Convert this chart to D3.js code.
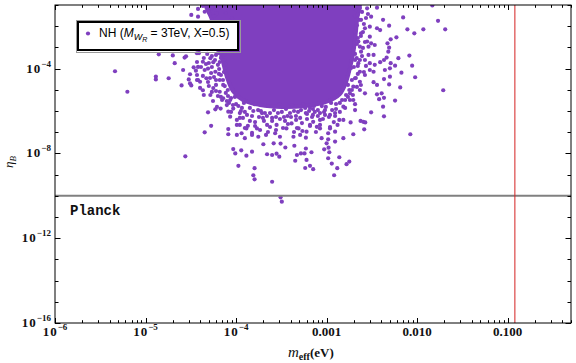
<!DOCTYPE html>
<html>
<head>
<meta charset="utf-8">
<script src="https://cdn.jsdelivr.net/npm/d3@7"></script>
<style>
  body { margin: 0; background: #fff; }
  svg { display: block; }
</style>
</head>
<body>
<div id="chart"></div>
<script>
  // dense core of the scan, outline [m_eff (eV), eta_B]
  const coreOutline = [
    [4.65e-5, 0.2], [2.21e-3, 0.2], [2.16e-3, 1.96e-2], [2.06e-3, 2.23e-3], [1.95e-3, 4.4e-4],
    [1.81e-3, 1.07e-4], [1.64e-3, 2.33e-5], [1.4e-3, 6.3e-6], [9.84e-4, 2.66e-6], [5.77e-4, 1.72e-6],
    [3.21e-4, 1.55e-6], [1.84e-4, 1.92e-6], [1.19e-4, 3.3e-6], [9.24e-5, 8.8e-6], [7.93e-5, 4.0e-5],
    [7.0e-5, 3.16e-4], [6.15e-5, 2.23e-3], [5.42e-5, 1.96e-2]
  ];

  // points hugging the core
  const fringePoints = [
    [4.8e-5, 4.9e-4], [5.4e-5, 3.9e-4], [6.3e-5, 5.4e-4], [7.35e-5, 4.4e-4], [5.0e-5, 1.84e-4],
    [5.85e-5, 2.55e-4], [6.8e-5, 3.2e-4], [7.7e-5, 1.65e-4], [4.5e-5, 8.6e-5], [5.3e-5, 6.2e-5],
    [6.5e-5, 9.6e-5], [7.35e-5, 6.9e-5], [4.9e-5, 2.33e-5], [5.7e-5, 4.0e-5], [6.6e-5, 2.9e-5],
    [7.5e-5, 1.5e-5], [5.4e-5, 7.9e-6], [6.3e-5, 5.1e-6], [7.7e-5, 7.1e-6], [8.8e-5, 4.1e-6],
    [6.0e-5, 1.7e-5], [7.0e-5, 3.3e-6], [8.35e-5, 2.4e-6], [9.7e-5, 4.6e-6],
    [1.06e-4, 1.72e-6], [1.22e-4, 2.4e-6], [1.42e-4, 1.4e-6], [1.66e-4, 2.1e-6], [1.88e-4, 1.0e-6],
    [2.25e-4, 1.72e-6], [2.62e-4, 1.1e-6], [2.98e-4, 2.1e-6], [3.56e-4, 1.24e-6], [4.14e-4, 1.9e-6],
    [4.83e-4, 9.0e-7], [5.5e-4, 2.1e-6], [6.4e-4, 1.0e-6], [7.24e-4, 1.72e-6], [8.45e-4, 8.0e-7],
    [9.8e-4, 1.55e-6], [1.12e-3, 2.4e-6], [1.27e-3, 1.24e-6], [1.19e-4, 4.7e-7], [1.62e-4, 3.0e-7],
    [2.19e-4, 5.8e-7], [3.05e-4, 4.2e-7], [4.04e-4, 5.2e-7], [5.34e-4, 2.7e-7], [7.06e-4, 6.5e-7],
    [9.1e-4, 4.2e-7], [1.2e-3, 3.0e-7], [1.35e-4, 2.0e-7], [1.84e-4, 1.27e-7], [3.3e-4, 1.58e-7],
    [6.07e-4, 4.2e-7], [2.37e-4, 1.76e-7], [8.8e-5, 9.0e-7], [1.02e-4, 2.2e-7],
    [2.16e-3, 9.0e-2], [2.46e-3, 4.7e-2], [2.28e-3, 2.0e-2], [2.58e-3, 1.27e-2], [2.1e-3, 8.2e-3],
    [2.39e-3, 3.45e-3], [2.16e-3, 1.45e-3], [2.52e-3, 9.4e-4], [2.06e-3, 4.9e-4], [2.33e-3, 2.55e-4],
    [2.0e-3, 1.19e-4], [2.21e-3, 5.6e-5], [1.9e-3, 2.9e-5], [2.16e-3, 1.36e-5], [1.78e-3, 9.8e-6],
    [1.95e-3, 5.7e-6], [1.6e-3, 3.3e-6], [1.4e-3, 2.4e-6], [2.72e-3, 1.33e-4], [2.86e-3, 3.76e-2],
    [4.3e-5, 9.0e-2], [5.0e-5, 4.7e-2], [5.7e-5, 3.0e-2], [6.6e-5, 7.2e-2], [7.7e-5, 4.2e-2],
    [9.0e-5, 2.44e-2], [1.0e-4, 9.0e-2], [3.8e-5, 6.5e-2]
  ];

  // second, looser ring around the core
  const haloPoints = [
    [3.9e-5, 5.4e-4], [4.4e-5, 3.16e-4], [3.7e-5, 2.05e-4], [4.1e-5, 1.19e-4], [4.65e-5, 1.65e-4],
    [5.4e-5, 1.19e-4], [6.0e-5, 4.4e-4], [6.6e-5, 2.05e-4], [4.3e-5, 4.5e-5], [3.8e-5, 2.9e-5],
    [5.0e-5, 1.51e-5], [4.4e-5, 5.7e-6], [6.0e-5, 8.8e-6], [6.8e-5, 4.6e-6], [7.9e-5, 2.96e-6],
    [5.56e-5, 2.96e-6], [9.24e-5, 1.92e-6], [6.47e-5, 5.6e-5], [7.17e-5, 2.9e-5], [6.15e-5, 1.55e-6],
    [8.14e-5, 5.1e-6], [4.0e-5, 1.22e-5], [5.15e-5, 3.6e-5], [7.54e-5, 1.07e-4],
    [2.33e-3, 7.2e-2], [2.06e-3, 3.0e-2], [2.52e-3, 5.3e-3], [2.21e-3, 2.77e-3], [2.65e-3, 1.8e-3],
    [2.46e-3, 3.9e-4], [2.21e-3, 1.33e-4], [2.58e-3, 6.9e-5], [2.1e-3, 3.6e-5], [2.39e-3, 1.68e-5],
    [1.9e-3, 9.8e-6], [1.72e-3, 4.6e-6], [1.48e-3, 3.3e-6], [1.27e-3, 2.14e-6], [2.72e-3, 2.44e-2],
    [1.81e-3, 3.3e-6], [2.06e-3, 2.55e-4],
    [1.13e-4, 1.0e-6], [1.32e-4, 6.5e-7], [1.55e-4, 1.0e-6], [1.79e-4, 5.2e-7], [2.08e-4, 8.05e-7],
    [2.5e-4, 4.7e-7], [2.9e-4, 8.05e-7], [3.38e-4, 5.2e-7], [3.94e-4, 8.05e-7], [4.58e-4, 5.8e-7],
    [5.21e-4, 1.11e-6], [6.07e-4, 7.2e-7], [7.06e-4, 1.24e-6], [8.0e-4, 5.8e-7], [9.35e-4, 8.97e-7],
    [1.06e-3, 5.2e-7], [1.24e-3, 8.05e-7], [1.25e-4, 1.58e-7], [1.62e-4, 1.96e-7], [2.03e-4, 3.4e-7],
    [2.76e-4, 1.27e-7], [3.74e-4, 2.44e-7], [4.7e-4, 1.58e-7], [6.55e-4, 1.96e-7], [8.45e-4, 2.2e-7],
    [1.09e-3, 1.76e-7], [1.1e-4, 4.7e-7], [1.5e-4, 9.2e-8], [2.25e-4, 1.02e-7], [4.36e-4, 1.02e-7],
    [7.62e-4, 1.02e-7]
  ];

  const leftPoints = [
    [4.6e-6, 7.5e-5], [6.3e-6, 8.1e-6], [1.4e-5, 4.7e-4], [2.0e-5, 4.2e-4], [2.8e-5, 3.8e-4],
    [2.1e-5, 1.8e-4], [1.3e-5, 4.2e-5], [1.3e-5, 3.1e-5], [1.8e-5, 3.5e-5], [2.6e-5, 8.6e-5],
    [3.1e-5, 5.4e-5], [3.0e-5, 3.1e-5], [2.5e-5, 1.6e-5], [3.2e-5, 1.6e-5], [3.4e-5, 1.15e-4],
    [3.6e-5, 8.0e-5], [3.7e-5, 5.3e-4], [2.75e-5, 7.3e-9], [3.7e-5, 2.9e-5], [3.2e-5, 3.4e-2],
    [3.8e-5, 2.8e-2], [4.5e-5, 4.8e-2], [5.4e-5, 7.0e-2], [6.1e-5, 4.1e-2], [2.7e-5, 3.3e-4],
    [3.8e-5, 1.2e-4], [4.3e-5, 2.1e-4], [5.2e-5, 3.1e-4], [3.7e-5, 5.0e-5], [3.1e-5, 2.0e-5],
    [4.0e-5, 2.4e-5], [4.7e-5, 3.5e-5], [5.9e-5, 7.1e-5], [6.3e-5, 1.5e-4], [5.6e-5, 1.2e-5],
    [5.2e-5, 5.7e-6], [6.6e-5, 8.1e-6], [7.2e-5, 4.0e-6], [7.2e-5, 1.7e-5], [7.9e-5, 1.9e-6],
    [7.35e-5, 2.55e-4], [6.8e-5, 5.0e-5], [8.1e-5, 9.8e-6], [6.0e-5, 2.9e-5], [4.9e-5, 1.0e-4],
    [5.6e-5, 2.0e-4], [4.3e-5, 9.5e-6], [8.6e-5, 3.3e-6], [1.0e-4, 2.1e-6], [1.16e-4, 1.4e-6]
  ];

  const lowerPoints = [
    [4.5e-5, 9.9e-8], [5.3e-5, 2.0e-7], [4.9e-5, 8.7e-7], [5.9e-5, 1.2e-6], [6.75e-5, 1.3e-6],
    [8.2e-5, 1.4e-7], [8.2e-5, 8.0e-8], [9.3e-5, 1.6e-8], [9.8e-5, 1.0e-8], [1.14e-4, 1.4e-8],
    [1.3e-4, 7.8e-9], [1.5e-4, 1.2e-8], [1.06e-4, 2.6e-9], [1.6e-4, 2.0e-9], [1.55e-4, 9.3e-10],
    [1.6e-4, 6.0e-10], [2.5e-4, 4.6e-10], [2.0e-4, 2.7e-8], [2.2e-4, 9.1e-9], [2.5e-4, 8.4e-9],
    [2.8e-4, 9.7e-9], [3.0e-4, 7.0e-9], [2.6e-4, 3.0e-8], [3.1e-4, 2.9e-8], [3.5e-4, 1.9e-8],
    [4.4e-4, 2.3e-8], [4.5e-4, 4.5e-9], [4.7e-4, 8.4e-9], [5.2e-4, 1.0e-8], [5.7e-4, 1.0e-8],
    [5.9e-4, 1.7e-8], [5.8e-4, 2.05e-9], [6.0e-4, 4.9e-9], [3.1e-4, 8.5e-11], [3.2e-4, 5.3e-11],
    [1.02e-4, 7.4e-8], [1.15e-4, 8.9e-8], [1.25e-4, 5.2e-8], [1.5e-4, 7.4e-8], [1.76e-4, 6.1e-8],
    [2.14e-4, 7.4e-8], [2.7e-4, 8.9e-8], [3.05e-4, 6.1e-8], [3.6e-4, 1.5e-7], [4.3e-4, 6.1e-8],
    [5.1e-4, 7.4e-8], [6.0e-4, 1.06e-7], [4.9e-4, 1.5e-7], [4.1e-4, 2.6e-7], [2.8e-4, 2.2e-7],
    [2.2e-4, 2.2e-7], [1.7e-4, 1.5e-7], [1.3e-4, 1.5e-7], [1.1e-4, 2.2e-7], [1.02e-4, 3.8e-7],
    [8.6e-5, 5.4e-7], [8.2e-5, 9.3e-7], [9.3e-5, 1.3e-6], [1.25e-4, 9.0e-7], [1.5e-4, 5.8e-7],
    [1.75e-4, 1.1e-6], [1.98e-4, 4.7e-7], [2.37e-4, 8.0e-7], [2.76e-4, 5.2e-7], [3.2e-4, 9.0e-7],
    [3.7e-4, 5.8e-7], [4.36e-4, 1.0e-6], [5.1e-4, 4.7e-7], [5.9e-4, 8.0e-7], [6.9e-4, 5.2e-7],
    [8.0e-4, 1.1e-6], [1.42e-4, 3.4e-7], [2.5e-4, 3.4e-7], [3.47e-4, 3.4e-7], [1.93e-4, 8.0e-7],
    [4.6e-4, 3.8e-7], [1.1e-4, 8.0e-7], [6.55e-4, 1.4e-6], [9.6e-4, 1.1e-6], [1.09e-3, 6.5e-7],
    [8.45e-4, 3.8e-7], [1.6e-4, 2.1e-6]
  ];

  const rightPoints = [
    [2.8e-3, 7.0e-2], [3.6e-3, 7.5e-2], [3.1e-3, 2.8e-2], [4.2e-3, 2.0e-2], [4.9e-3, 1.06e-2],
    [7.0e-3, 2.6e-2], [7.8e-3, 7.1e-3], [9.3e-3, 4.6e-3], [1.17e-2, 7.1e-3], [2.4e-3, 2.0e-2],
    [2.65e-3, 8.0e-3], [3.0e-3, 9.5e-3], [3.6e-3, 8.0e-3], [3.9e-3, 6.6e-3], [2.4e-3, 4.6e-3],
    [3.0e-3, 3.2e-3], [2.8e-3, 1.9e-3], [3.1e-3, 1.56e-3], [2.9e-3, 1.08e-3], [3.4e-3, 1.3e-3],
    [5.1e-3, 2.4e-3], [5.9e-3, 3.0e-3], [4.7e-3, 1.56e-3], [4.9e-3, 9.7e-4], [4.8e-3, 6.3e-4],
    [2.4e-3, 6.3e-4], [2.9e-3, 4.4e-4], [3.3e-3, 4.4e-4], [2.65e-3, 2.55e-4], [3.0e-3, 1.8e-4],
    [3.4e-3, 1.5e-4], [3.9e-3, 2.0e-4], [4.3e-3, 2.55e-4], [4.6e-3, 3.3e-4], [5.1e-3, 1.8e-4],
    [5.7e-3, 1.37e-4], [6.2e-3, 3.1e-4], [8.2e-3, 4.1e-4], [8.8e-3, 1.37e-4], [3.0e-3, 8.6e-5],
    [3.3e-3, 7.1e-5], [2.33e-3, 7.1e-5], [2.65e-3, 5.0e-5], [4.4e-3, 8.6e-5], [5.0e-3, 1.03e-4],
    [6.7e-3, 6.4e-5], [9.5e-3, 3.9e-5], [3.3e-3, 2.3e-5], [3.6e-3, 1.7e-5], [4.3e-3, 3.2e-5],
    [5.0e-3, 4.15e-5], [4.9e-3, 1.8e-5], [6.5e-3, 1.3e-5], [2.33e-3, 9.8e-6], [2.65e-3, 6.8e-6],
    [3.6e-3, 6.1e-6], [4.05e-3, 6.8e-6], [3.8e-3, 3.6e-6], [4.3e-3, 4.2e-6], [5.7e-3, 3.1e-6],
    [4.2e-3, 1.6e-6], [1.97e-3, 3.3e-6], [2.06e-3, 2.1e-6], [1.53e-3, 1.6e-6], [2.24e-3, 1.9e-3],
    [2.33e-3, 1.08e-3], [2.15e-3, 3.1e-4], [2.24e-3, 1.8e-4], [2.06e-3, 3.5e-5], [2.33e-3, 2.4e-5],
    [1.97e-3, 1.4e-5], [1.81e-3, 6.8e-6], [1.7e-2, 1.8e-2], [1.47e-2, 9.5e-2], [2.04e-2, 7.1e-3],
    [1.94e-2, 9.5e-6], [2.1e-3, 5.8e-2], [2.2e-3, 3.4e-2], [2.16e-3, 1.1e-2], [2.06e-3, 5.3e-3],
    [1.95e-3, 5.3e-4], [1.86e-3, 1.07e-4], [1.72e-3, 1.7e-5], [1.64e-3, 5.7e-6]
  ];

  const lowerRightPoints = [
    [8.4e-3, 8.0e-8], [4.3e-3, 5.6e-7], [3.1e-3, 8.7e-7], [2.06e-3, 1.1e-6], [2.37e-3, 3.4e-7],
    [2.54e-3, 3.1e-7], [2.67e-3, 2.9e-7], [2.6e-3, 1.37e-7], [1.84e-3, 2.9e-7], [1.97e-3, 8.0e-8],
    [1.53e-3, 5.2e-8], [1.24e-3, 3.6e-8], [1.38e-3, 6.6e-9], [1.78e-3, 4.1e-9], [1.66e-3, 3.1e-9],
    [1.31e-3, 2.0e-9], [1.21e-3, 9.3e-10], [1.14e-3, 3.3e-9], [1.04e-3, 5.9e-9], [1.07e-3, 1.13e-8],
    [1.05e-3, 1.86e-8], [9.4e-4, 1.56e-8], [6.8e-4, 1.13e-8], [6.55e-4, 2.6e-9], [7.1e-4, 1.8e-9],
    [5.9e-4, 5.5e-8], [5.4e-4, 1.14e-7], [1.04e-3, 4.6e-8], [8.8e-4, 5.2e-8], [1.0e-3, 3.0e-8],
    [1.09e-3, 1.5e-7], [1.04e-3, 8.9e-8], [8.45e-4, 1.5e-7], [7.8e-4, 1.8e-7], [7.1e-4, 3.1e-7],
    [6.55e-4, 2.2e-7], [1.24e-3, 1.06e-7], [1.38e-3, 3.8e-7], [1.53e-3, 3.8e-7], [1.32e-3, 2.2e-7],
    [5.8e-4, 1.4e-6], [7.4e-4, 9.0e-7], [8.85e-4, 1.7e-6], [1.15e-3, 1.1e-6], [1.4e-3, 9.0e-7],
    [1.6e-3, 1.4e-6], [1.24e-3, 5.8e-7], [9.6e-4, 6.5e-7]
  ];

  const xMajor = [1e-6, 1e-5, 1e-4, 1e-3, 1e-2, 1e-1];
  const xTickLabels = [["10", "\u22126"], ["10", "\u22125"], ["10", "\u22124"], ["0.001", ""], ["0.010", ""], ["0.100", ""]];
  const yLabelExps = [-16, -12, -8, -4];
  const yDecadeExps = d3.range(-16, 0);
  const planckEta = 1e-10;
  const mLimit = 0.12;

  const width = 576, height = 363;
  const plot = { left: 55, right: 571, top: 5, bottom: 323 };
  const dotColor = "#7f3fbf";

  const x = d3.scaleLog().domain([1e-6, 0.5]).range([plot.left, plot.right]);
  const y = d3.scaleLog().domain([1e-16, 0.1]).range([plot.bottom, plot.top]);

  const svg = d3.select("#chart").append("svg")
    .attr("width", width)
    .attr("height", height);

  svg.append("defs").append("clipPath").attr("id", "clip")
    .append("rect")
    .attr("x", plot.left).attr("y", plot.top)
    .attr("width", plot.right - plot.left).attr("height", plot.bottom - plot.top);

  const gData = svg.append("g").attr("clip-path", "url(#clip)");

  const blob = d3.line()
    .x(d => x(d[0]))
    .y(d => y(d[1]))
    .curve(d3.curveCatmullRomClosed.alpha(0.5));

  // stroke in the dot colour so the core edge blends into the dots around it
  gData.append("path")
    .attr("d", blob(coreOutline))
    .attr("fill", dotColor)
    .attr("stroke", dotColor)
    .attr("stroke-width", 4)
    .attr("stroke-linejoin", "round");

  const allPoints = [].concat(fringePoints, haloPoints, leftPoints, lowerPoints, rightPoints, lowerRightPoints);
  gData.selectAll("circle.pt").data(allPoints).join("circle")
    .attr("class", "pt")
    .attr("cx", d => x(d[0]))
    .attr("cy", d => y(d[1]))
    .attr("r", 2.1)
    .attr("fill", dotColor);

  // Planck value and vertical bound
  gData.append("line")
    .attr("x1", plot.left).attr("x2", plot.right)
    .attr("y1", y(planckEta)).attr("y2", y(planckEta))
    .attr("stroke", "#808080").attr("stroke-width", 2);

  gData.append("line")
    .attr("x1", x(mLimit)).attr("x2", x(mLimit))
    .attr("y1", plot.top).attr("y2", plot.bottom)
    .attr("stroke", "#d42020").attr("stroke-width", 1);

  svg.append("text")
    .attr("x", 70).attr("y", 215)
    .attr("font-family", "'Liberation Mono', 'DejaVu Sans Mono', monospace")
    .attr("font-weight", "bold")
    .attr("font-size", 14)
    .attr("fill", "#111")
    .text("Planck");

  // frame with inward ticks on all sides
  const frame = svg.append("g").attr("stroke", "#000").attr("stroke-width", 1).attr("fill", "none");
  frame.append("rect")
    .attr("x", plot.left).attr("y", plot.top)
    .attr("width", plot.right - plot.left).attr("height", plot.bottom - plot.top);

  const xTicks = x.ticks().filter(t => t >= 1e-6 && t <= 0.5);
  const isMajorX = t => xMajor.some(m => Math.abs(m - t) / m < 1e-6);
  xTicks.forEach(t => {
    const len = isMajorX(t) ? 5 : 2.8;
    const px = Math.round(x(t)) + 0.5;
    frame.append("line").attr("x1", px).attr("x2", px).attr("y1", plot.bottom).attr("y2", plot.bottom - len);
    frame.append("line").attr("x1", px).attr("x2", px).attr("y1", plot.top).attr("y2", plot.top + len);
  });

  yDecadeExps.forEach(e => {
    const len = yLabelExps.includes(e) ? 5.5 : 3.5;
    const py = Math.round(y(Math.pow(10, e))) + 0.5;
    frame.append("line").attr("y1", py).attr("y2", py).attr("x1", plot.left).attr("x2", plot.left + len);
    frame.append("line").attr("y1", py).attr("y2", py).attr("x1", plot.right).attr("x2", plot.right - len);
  });

  const serif = "'Liberation Serif', 'DejaVu Serif', serif";

  // x tick labels
  xMajor.forEach((t, i) => {
    const lab = svg.append("text")
      .attr("x", x(t)).attr("y", 336)
      .attr("text-anchor", "middle")
      .attr("font-family", serif)
      .attr("font-weight", "bold")
      .attr("font-size", 13)
      .attr("fill", "#111");
    lab.append("tspan").attr("letter-spacing", xTickLabels[i][1] ? 1 : 0).text(xTickLabels[i][0]);
    if (xTickLabels[i][1]) {
      lab.append("tspan").attr("dy", -6).attr("font-size", 9).text(xTickLabels[i][1]);
    }
  });

  // y tick labels
  yLabelExps.forEach(e => {
    const lab = svg.append("text")
      .attr("x", 51).attr("y", y(Math.pow(10, e)) + 4)
      .attr("text-anchor", "end")
      .attr("font-family", serif)
      .attr("font-weight", "bold")
      .attr("font-size", 13)
      .attr("fill", "#111");
    lab.append("tspan").attr("letter-spacing", 1).text("10");
    lab.append("tspan").attr("dy", -6).attr("font-size", 9).text("\u2212" + Math.abs(e));
  });

  // axis titles
  const xTitle = svg.append("text")
    .attr("x", 288).attr("y", 357)
    .attr("font-family", serif)
    .attr("fill", "#111");
  xTitle.append("tspan").attr("font-style", "italic").attr("font-size", 15).text("m");
  xTitle.append("tspan").attr("font-weight", "bold").attr("font-size", 10).attr("dy", 3).text("eff");
  xTitle.append("tspan").attr("font-weight", "bold").attr("font-size", 13).attr("dy", -3).text("(eV)");

  const yTitle = svg.append("text")
    .attr("transform", "translate(13,162) rotate(-90)")
    .attr("text-anchor", "middle")
    .attr("font-family", serif)
    .attr("font-style", "italic")
    .attr("fill", "#111");
  yTitle.append("tspan").attr("font-size", 13).text("\u03b7");
  yTitle.append("tspan").attr("font-size", 9).attr("dy", 3).text("B");

  // legend
  const legend = svg.append("g");
  legend.append("rect")
    .attr("x", 76.5).attr("y", 20.5).attr("width", 164).attr("height", 32)
    .attr("fill", "none").attr("stroke", "#9a9a9a").attr("stroke-width", 1);
  legend.append("rect")
    .attr("x", 78).attr("y", 22).attr("width", 160).attr("height", 28)
    .attr("fill", "#fff").attr("stroke", "#000").attr("stroke-width", 2);
  legend.append("circle")
    .attr("cx", 88).attr("cy", 33.5).attr("r", 2.1).attr("fill", dotColor);

  const legText = legend.append("text")
    .attr("x", 99).attr("y", 37)
    .attr("font-family", "'Liberation Sans', Arial, sans-serif")
    .attr("font-size", 12)
    .attr("fill", "#000");
  legText.append("tspan").text("NH (");
  legText.append("tspan").attr("font-style", "italic").text("M");
  legText.append("tspan").attr("font-style", "italic").attr("font-size", 9).attr("dy", 3).text("W");
  legText.append("tspan").attr("font-style", "italic").attr("font-size", 7).attr("dy", 2).text("R");
  legText.append("tspan").attr("dy", -5).text(" = 3TeV, X=0.5)");
</script>
</body>
</html>
